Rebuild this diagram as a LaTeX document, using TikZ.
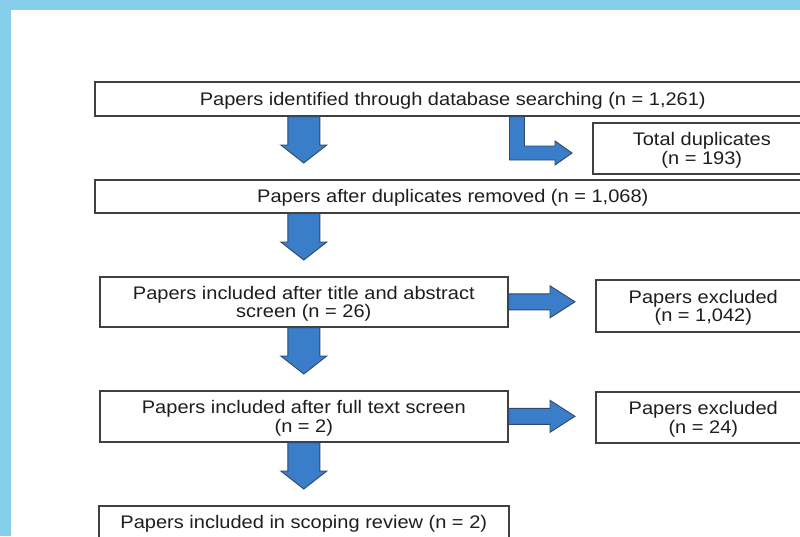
\documentclass[tikz,border=0pt]{standalone}
\usepackage{fontspec}
\setmainfont{Liberation Sans}[FakeStretch=1.1]
\usetikzlibrary{calc}
\definecolor{skyblue}{RGB}{135,206,235}
\definecolor{arrowblue}{RGB}{58,125,201}
\definecolor{arrowedge}{RGB}{48,72,105}
\definecolor{boxedge}{RGB}{64,64,64}
\definecolor{boxtext}{RGB}{30,30,30}
\tikzset{
  box/.style={draw=boxedge, line width=1.6pt, fill=white, anchor=north west,
    inner sep=0pt, align=center, text depth=0pt, text=boxtext,
    font=\fontsize{18.2}{18.5}\selectfont},
  blockarrow/.style={fill=arrowblue, draw=arrowedge, line width=0.9pt, line join=miter},
}
% flecha gruesa hacia abajo: #1 inicio, #2 caja destino
\newcommand{\blockdown}[2]{%
  \draw[blockarrow] let \p1=#1, \p2=#2 in
    (\x1-16pt,\y1) -- (\x1+16pt,\y1) -- (\x1+16pt,\y2+34pt) -- (\x1+23pt,\y2+34pt)
    -- (\x1,\y2+16pt) -- (\x1-23pt,\y2+34pt) -- (\x1-16pt,\y2+34pt) -- cycle;}
% flecha gruesa hacia la derecha
\newcommand{\blockright}[2]{%
  \draw[blockarrow] let \p1=#1, \p2=#2 in
    (\x1,\y1+8pt) -- (\x2-45pt,\y1+8pt) -- (\x2-45pt,\y1+16pt) -- (\x2-20pt,\y1)
    -- (\x2-45pt,\y1-16pt) -- (\x2-45pt,\y1-8pt) -- (\x1,\y1-8pt) -- cycle;}
\begin{document}
\begin{tikzpicture}[x=1pt,y=-1pt]
% Fondo
\fill[skyblue] (0,0) rectangle (800,536);
\fill[white] (11,10) rectangle (800,536);
\useasboundingbox (0,0) rectangle (800,536);
\clip (0,0) rectangle (800,536);
% Cajas
\node[box, minimum width=716pt, minimum height=34pt] (ident) at (94,81)
  {Papers identified through database searching (n = 1,261)};
\node[box, minimum width=218pt, minimum height=51pt] (dup) at (592,122)
  {Total duplicates\\(n = 193)};
\node[box, minimum width=716pt, minimum height=33pt] (dedup) at (94,179)
  {Papers after duplicates removed (n = 1,068)};
\node[box, minimum width=408pt, minimum height=50pt] (incl) at (99,276)
  {Papers included after title and abstract\\screen (n = 26)};
\node[box, minimum width=215pt, minimum height=52pt] (excla) at (595,279)
  {Papers excluded\\(n = 1,042)};
\node[box, minimum width=408pt, minimum height=51pt] (full) at (99,390)
  {Papers included after full text screen\\(n = 2)};
\node[box, minimum width=215pt, minimum height=51pt] (exclb) at (595,391)
  {Papers excluded\\(n = 24)};
\node[box, minimum width=410pt, minimum height=33pt] (scope) at (98,505)
  {Papers included in scoping review (n = 2)};
% Flechas
\coordinate (bend) at (517,153);
\blockdown{(ident.south -| incl.north)}{(dedup.north -| incl.north)}
\blockdown{(dedup.south -| incl.north)}{(incl.north)}
\blockdown{(incl.south)}{(full.north)}
\blockdown{(full.south)}{(scope.north)}
\blockright{(incl.east)}{(excla.west)}
\blockright{(full.east)}{(exclb.west)}
% Flecha doblada hacia duplicados
\draw[blockarrow] let \p1=(ident.south -| bend), \p2=(bend), \p3=(dup.west) in
  (\x1-7.5pt,\y1) -- (\x1+7.5pt,\y1) -- (\x1+7.5pt,\y2+7pt) -- (\x3-37pt,\y2+7pt)
  -- (\x3-37pt,\y2+12pt) -- (\x3-20pt,\y2) -- (\x3-37pt,\y2-12pt) -- (\x3-37pt,\y2-7pt)
  -- (\x1-7.5pt,\y2-7pt) -- cycle;
\end{tikzpicture}
\end{document}
